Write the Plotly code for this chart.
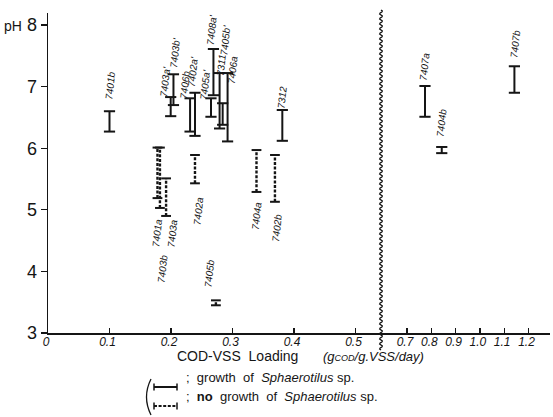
import numpy as np
import plotly.graph_objects as go

# ---------------- data ----------------
growth_names = ["7401b", "7403a'", "7403b'", "7406b", "7402a'", "7405a'", "7408a'",
                "7311", "7405b'", "7406a", "7312", "7407a", "7404b", "7407b"]
growth_x = [0.100, 0.1995, 0.204, 0.231, 0.239, 0.265, 0.269,
            0.279, 0.284, 0.292, 0.381, 0.774, 0.843, 1.142]
growth_lo = [6.27, 6.52, 6.70, 6.27, 6.20, 6.51, 6.86,
             6.32, 6.38, 6.11, 6.12, 6.51, 5.92, 6.90]
growth_hi = [6.60, 6.83, 7.20, 6.81, 6.90, 6.81, 7.61,
             7.22, 6.73, 7.22, 6.62, 7.01, 6.02, 7.33]

nogrowth_names = ["7401a", "7403b", "7403a", "7402a", "7405b", "7404a", "7402b"]
nogrowth_x = [0.178, 0.182, 0.192, 0.239, 0.273, 0.339, 0.369]
nogrowth_lo = [5.19, 5.03, 4.90, 5.43, 3.45, 5.29, 5.13]
nogrowth_hi = [6.01, 6.01, 5.51, 5.89, 3.53, 5.97, 5.89]

# label positions (text placement)
growth_label_x = [0.102, 0.190, 0.207, 0.223, 0.236, 0.255, 0.267,
                  0.281, 0.289, 0.301, 0.380, 0.774, 0.844, 1.144]
growth_label_y = [7.01, 7.09, 7.55, 7.03, 7.24, 7.04, 7.92,
                  7.35, 7.76, 7.27, 6.83, 7.32, 6.41, 7.69]
nogrowth_label_x = [0.177, 0.187, 0.202, 0.244, 0.263, 0.340, 0.372]
nogrowth_label_y = [4.62, 4.04, 4.62, 4.98, 3.96, 4.90, 4.70]

left_ticks = [0.1, 0.2, 0.3, 0.4, 0.5]
right_ticks = [0.7, 0.8, 0.9, 1.0, 1.1, 1.2]
y_ticks = [3, 4, 5, 6, 7, 8]
y_ticktext = ["3", "4", "5", "6", "7", "<span style='font-size:14px'>pH</span> 8"]

BREAK = 0.55  # values above this are drawn on the right (broken) axis segment

# ---------------- layout geometry ----------------
W, H = 553, 417
L, R, T, B = 48, 3, 13, 84
pw, ph = W - L - R, H - T - B
break_px = 381
split = (break_px - L) / pw

INK = "#151515"
HAND = "Liberation Sans"

fig = go.Figure()


def add_bars(xs, lo, hi, dashed):
    for axis in ("x", "x2"):
        px, py = [], []
        for x, a, b in zip(xs, lo, hi):
            if (x > BREAK) != (axis == "x2"):
                continue
            px += [x, x, None]
            py += [a, b, None]
        if not px:
            continue
        fig.add_trace(go.Scatter(
            x=px, y=py, xaxis=axis, yaxis="y", mode="lines+markers",
            line=dict(color=INK, width=2.4 if dashed else 2.0,
                      dash="3px,1.6px" if dashed else "solid"),
            marker=dict(symbol="line-ew", size=7 if dashed else 8,
                        line=dict(color=INK, width=2)),
            showlegend=False, hoverinfo="skip", connectgaps=False))


add_bars(growth_x, growth_lo, growth_hi, False)
add_bars(nogrowth_x, nogrowth_lo, nogrowth_hi, True)

annotations = []
for names, lx, ly in ((growth_names, growth_label_x, growth_label_y),
                      (nogrowth_names, nogrowth_label_x, nogrowth_label_y)):
    for n, x, y in zip(names, lx, ly):
        annotations.append(dict(
            x=x, y=y, xref="x2" if x > BREAK else "x", yref="y", text=n,
            showarrow=False, textangle=-84,
            font=dict(family=HAND, size=10, color=INK, style="italic")))


def paper(pxx, pyy):
    return (pxx - L) / pw, (H - B - pyy) / ph


# axis title
ax, ay = paper(237, 366)
annotations.append(dict(x=ax, y=ay, xref="paper", yref="paper", showarrow=False,
                        text="COD-VSS  Loading", font=dict(family=HAND, size=14, color=INK)))
ax, ay = paper(373, 366)
annotations.append(dict(x=ax, y=ay, xref="paper", yref="paper", showarrow=False,
                        text="(g<span style='font-size:9px'>COD</span>/g.VSS/day)",
                        font=dict(family=HAND, size=13, color=INK, style="italic")))

# legend texts
ax, ay = paper(184, 387)
annotations.append(dict(x=ax, y=ay, xref="paper", yref="paper", showarrow=False, xanchor="left",
                        text=";  growth  of  <i>Sphaerotilus</i> sp.",
                        font=dict(family=HAND, size=13, color=INK)))
ax, ay = paper(184, 406)
annotations.append(dict(x=ax, y=ay, xref="paper", yref="paper", showarrow=False, xanchor="left",
                        text=";  <b>no</b>  growth  of  <i>Sphaerotilus</i> sp.",
                        font=dict(family=HAND, size=13, color=INK)))

shapes = []
# legend samples
for pyy, dash in ((387, "solid"), (406, "3px,1.6px")):
    x0, y0 = paper(154, pyy)
    x1, _ = paper(177, pyy)
    shapes.append(dict(type="line", xref="paper", yref="paper", x0=x0, x1=x1, y0=y0, y1=y0,
                       line=dict(color=INK, width=2 if dash == "solid" else 2.2, dash=dash)))
    for cx in (154, 177):
        cxp, c0 = paper(cx, pyy - 3.5)
        _, c1 = paper(cx, pyy + 3.5)
        shapes.append(dict(type="line", xref="paper", yref="paper", x0=cxp, x1=cxp, y0=c0, y1=c1,
                           line=dict(color=INK, width=1.5)))

# legend bracket "("
p0 = paper(151, 379)
p1 = paper(142, 397)
p2 = paper(151, 415)
shapes.append(dict(type="path", xref="paper", yref="paper",
                   path=f"M {p0[0]:.5f},{p0[1]:.5f} Q {p1[0]:.5f},{p1[1]:.5f} {p2[0]:.5f},{p2[1]:.5f}",
                   line=dict(color=INK, width=1.3)))

# wavy break line
ys = np.arange(10, 351, 1.0)
xs = break_px + 1.4 * np.sin(ys / 5.0 * 2 * np.pi)
pts = [paper(a, b) for a, b in zip(xs, ys)]
path = "M " + " L ".join(f"{a:.5f},{b:.5f}" for a, b in pts)
shapes.append(dict(type="path", xref="paper", yref="paper", path=path,
                   line=dict(color=INK, width=1.3)))

xaxis_common = dict(showline=True, linecolor=INK, linewidth=1.5, ticks="inside",
                    ticklen=5, tickwidth=1.2, tickcolor=INK, showgrid=False, zeroline=False,
                    tickfont=dict(family=HAND, size=12, color=INK, style="italic"),
                    ticklabelstandoff=-3, ticklabelshift=-2,
                    anchor="y")

fig.update_layout(
    width=W, height=H, margin=dict(l=L, r=R, t=T, b=B),
    paper_bgcolor="white", plot_bgcolor="white", showlegend=False,
    xaxis=dict(domain=[0, split], range=[0, (break_px - L) / 615],
               tickvals=[0] + left_ticks, ticktext=["0"] + [f"{v:.1f}" for v in left_ticks],
               **xaxis_common),
    xaxis2=dict(domain=[split, 1], range=[0.7 - 26 / 243, 0.7 + (550 - 407) / 243],
                tickvals=right_ticks, ticktext=[f"{v:.1f}" for v in right_ticks],
                **xaxis_common),
    yaxis=dict(range=[3, 3 + ph / 61.6], showline=True, linecolor=INK, linewidth=1.5,
               ticks="outside", ticklen=6, tickwidth=1.2, tickcolor=INK,
               tickvals=y_ticks, ticktext=y_ticktext, showgrid=False, zeroline=False,
               tickfont=dict(family=HAND, size=18, color=INK)),
    annotations=annotations, shapes=shapes,
)

fig.write_html("out.html", config={"displayModeBar": False, "staticPlot": True},
               post_script="document.body.style.margin='0';document.body.style.overflow='hidden';")
